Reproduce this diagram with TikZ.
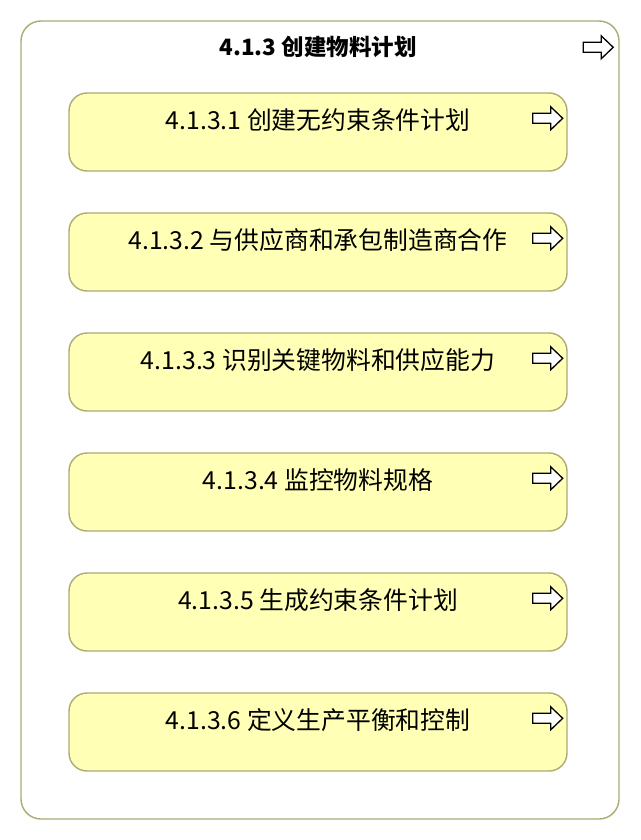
\documentclass[tikz,border=0pt]{standalone}
\usepackage{fontspec}
\setmainfont{Noto Sans CJK SC}
\usetikzlibrary{positioning}
\definecolor{boxline}{HTML}{ABAB72}
\definecolor{boxfill}{HTML}{FFFFB5}

\tikzstyle{b} = [rectangle, draw=boxline, fill=boxfill, line width=1.4pt, rounded corners=18pt, minimum width=498pt, minimum height=78pt, inner sep=0pt]
\tikzstyle{t} = [text centered, inner sep=0pt, font=\fontsize{24.8}{28}\selectfont]
\tikzset{go/.pic={\draw [line width=1.3pt, fill=white] (-15,-5) -- (3,-5) -- (3,-11.5) -- (15,0) -- (3,11.5) -- (3,5) -- (-15,5) -- cycle;}}

\begin{document}
\begin{tikzpicture}[x=1pt, y=-1pt]
\useasboundingbox (0,0) rectangle (640,840);
\node [draw=boxline, line width=1.4pt, rounded corners=20pt, minimum width=598pt, minimum height=798pt] (m) at (320,420) {};
\node [t, font=\fontsize{22.5}{26}\selectfont\bfseries] (mt) at (318,47) {4.1.3 创建物料计划};
\pic at ([xshift=-21.5pt, yshift=-27pt]m.north east) {go};
% sub processes
\node [b] (a) at (318,132) {};
\node [b, below of=a, node distance=120pt] (b) {};
\node [b, below of=b, node distance=120pt] (c) {};
\node [b, below of=c, node distance=120pt] (d) {};
\node [b, below of=d, node distance=120pt] (e) {};
\node [b, below of=e, node distance=120pt] (f) {};
\node [t] (at) at ([yshift=-28pt]a.north) {4.1.3.1 创建无约束条件计划};
\node [t] (bt) at ([yshift=-28pt]b.north) {4.1.3.2 与供应商和承包制造商合作};
\node [t] (ct) at ([yshift=-28pt]c.north) {4.1.3.3 识别关键物料和供应能力};
\node [t] (dt) at ([yshift=-28pt]d.north) {4.1.3.4 监控物料规格};
\node [t] (et) at ([yshift=-28pt]e.north) {4.1.3.5 生成约束条件计划};
\node [t] (ft) at ([yshift=-28pt]f.north) {4.1.3.6 定义生产平衡和控制};
\foreach \n in {a,b,c,d,e,f}
  \pic at ([xshift=-20pt, yshift=-26pt]\n.north east) {go};
\end{tikzpicture}
\end{document}
